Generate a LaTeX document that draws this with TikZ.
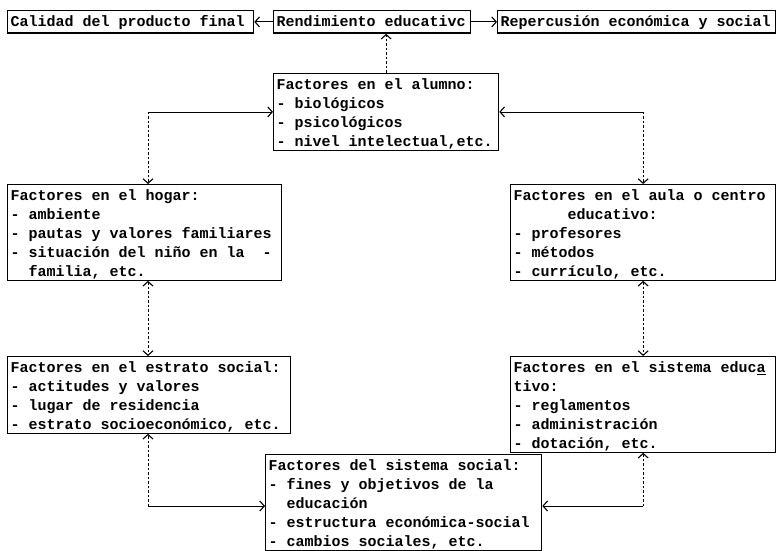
\documentclass[tikz,border=0pt]{standalone}
\usepackage{fontspec}
\setmainfont{Liberation Mono}
\usetikzlibrary{arrows.meta}
\newcommand\myboxfont{\fontsize{15}{19}\selectfont\bfseries}
\newcommand\myfixspace{\spaceskip=9pt\relax\xspaceskip=9pt\relax\baselineskip=19pt\relax}
\begin{document}
\begin{tikzpicture}[x=1pt,y=-1pt,
  bx/.style={draw, line width=1.3pt, anchor=north west,
    inner xsep=3pt, inner ysep=0pt, text height=15.5pt, font=\myboxfont,
    execute at begin node=\myfixspace},
  one/.style={bx, text depth=7pt},
  four/.style={bx, text depth=61pt},
  five/.style={bx, text depth=80pt},
  conn/.style={line width=0.8pt},
  dl/.style={conn, dash pattern=on 2.5pt off 2pt},
  tip/.style={-{Straight Barb[length=4.5pt,width=10pt,line width=1.1pt]}},
  tips/.style={{Straight Barb[length=4.5pt,width=10pt,line width=1.1pt]}-{Straight Barb[length=4.5pt,width=10pt,line width=1.1pt]}}
]
\useasboundingbox (0,0) rectangle (776,551);

\node[one, text width=240pt] (cal) at (7,10) {Calidad del producto final};
\node[one, text width=191pt] (ren) at (273,10) {Rendimiento educativc};
\node[one, text width=272pt] (rep) at (497,10) {Repercusión económica y social};

\node[four, text width=219pt] (alu) at (273,73) {Factores en el alumno:\\- biológicos\\- psicológicos\\- nivel intelectual,etc.};

\node[five, text width=268pt] (hog) at (7,184) {Factores en el hogar:\\- ambiente\\- pautas y valores familiares\\- situación del niño en la\hphantom{xx}-\\\hphantom{xx}familia, etc.};

\node[five, text width=259pt] (aula) at (510,184) {Factores en el aula o centro\\\hphantom{xxxxxx}educativo:\\- profesores\\- métodos\\- currículo, etc.};

\node[four, text width=277pt] (est) at (7,356) {Factores en el estrato social:\\- actitudes y valores\\- lugar de residencia\\- estrato socioeconómico, etc.};

\node[five, text width=259pt] (sis) at (510,356) {Factores en el sistema educ\underline{a}\\tivo:\\- reglamentos\\- administración\\- dotación, etc.};

\node[five, text width=270pt] (soc) at (265,454) {Factores del sistema social:\\- fines y objetivos de la\\\hphantom{xx}educación\\- estructura económica-social\\- cambios sociales, etc.};

\coordinate (xL) at (148,0);
\coordinate (yB) at (0,506);

\draw[conn,tip] (ren.west) -- (cal.east);
\draw[conn,tip] (ren.east) -- (rep.west);
\draw[dl,tip] (alu.north) -- (alu.north |- ren.south);

\coordinate (cAL) at (xL |- alu.west);
\draw[conn,tip] (cAL) -- (alu.west);
\draw[dl,tip] (cAL) -- (cAL |- hog.north);

\coordinate (cAR) at (aula.north |- alu.east);
\draw[conn,tip] (cAR) -- (alu.east);
\draw[dl,tip] (cAR) -- (aula.north);

\draw[dl,tips] (xL |- hog.south) -- (xL |- est.north);
\draw[dl,tips] (aula.south) -- (sis.north);

\coordinate (cBL) at (xL |- yB);
\draw[dl,tip] (cBL) -- (xL |- est.south);
\draw[conn,tip] (cBL) -- (soc.west |- yB);

\coordinate (cBR) at (sis.south |- yB);
\draw[dl,tip] (cBR) -- (sis.south);
\draw[conn,tip] (cBR) -- (soc.east |- yB);
\end{tikzpicture}
\end{document}
